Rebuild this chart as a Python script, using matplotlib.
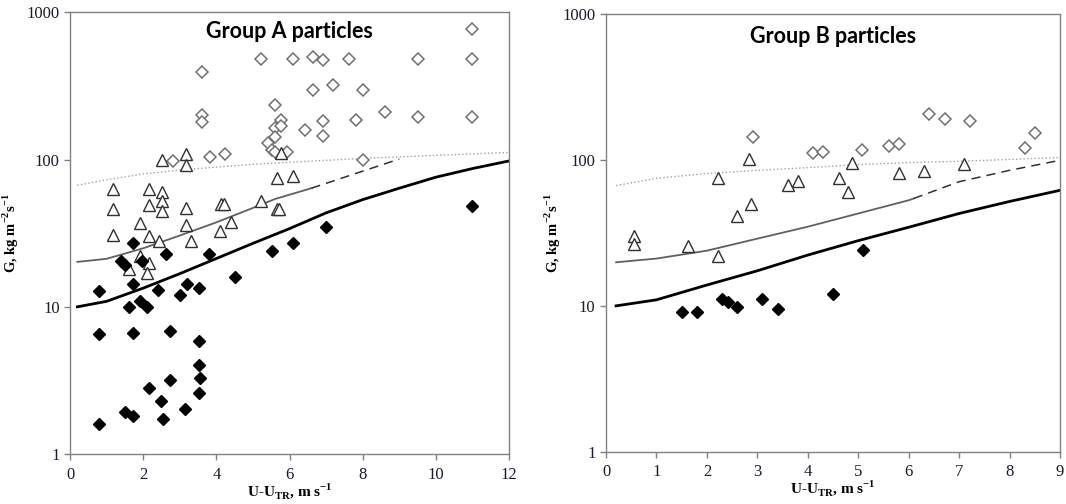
import numpy as np
import matplotlib.pyplot as plt

plt.rcParams["font.family"] = "Liberation Serif"
plt.rcParams["mathtext.fontset"] = "custom"
plt.rcParams["mathtext.rm"] = "Liberation Serif"
plt.rcParams["mathtext.bf"] = "Liberation Serif:bold"

# ---- Group A data ----
a_open_x = [11.0, 5.23, 6.10, 6.63, 6.91, 7.62, 9.51, 11.0, 3.61, 6.63, 7.20, 8.02,
            5.61, 8.61, 3.61, 3.61, 9.51, 11.0, 5.78, 6.91, 7.82, 5.61, 5.78, 6.41,
            5.61, 6.91, 5.41, 5.52, 5.61, 5.92, 2.82, 3.82, 4.23, 8.02]
a_open_g = [775, 485, 485, 495, 475, 485, 485, 485, 396, 298, 321, 298,
            234, 211, 200, 181, 196, 196, 187, 183, 187, 165, 170, 160,
            142, 144, 130, 117, 113, 112, 98, 104, 110, 100]

a_tri_x = [2.51, 3.16, 3.16, 5.76, 5.65, 6.10, 1.17, 2.16, 2.51, 2.51, 2.16, 1.17,
           2.51, 3.16, 4.12, 4.21, 5.21, 5.65, 5.72, 1.90, 3.16, 4.41, 4.10, 1.17,
           2.16, 2.42, 3.30, 1.90, 2.16, 1.60, 2.10]
a_tri_g = [100, 110, 92, 111, 75.5, 78, 63, 63, 60, 52, 49, 46,
           45, 47, 50, 50, 52.5, 46, 46.5, 37, 36, 37.7, 33, 31,
           30.5, 27.9, 27.9, 22, 20, 18, 17]

a_fill_x = [11.0, 7.0, 1.71, 6.10, 5.52, 3.81, 2.61, 1.38, 1.51, 1.97, 4.50, 1.71,
            3.21, 3.52, 0.80, 2.41, 3.01, 1.90, 1.60, 2.10, 0.80, 1.71, 2.72, 3.52,
            3.52, 3.55, 2.72, 2.15, 3.52, 2.50, 3.15, 1.51, 1.71, 2.53, 0.80]
a_fill_g = [48.8, 35, 27, 27, 24, 23, 22.8, 20.6, 19.2, 20.4, 16, 14.2,
            14.2, 13.4, 12.9, 13.0, 12.0, 11.0, 10.0, 10.0, 6.5, 6.6, 6.8, 5.9,
            4.0, 3.3, 3.2, 2.8, 2.6, 2.3, 2.03, 1.92, 1.81, 1.72, 1.61]

# model curves, group A
a_dot_x = [0.2, 1, 2, 3, 4, 5, 6, 8, 10, 12]
a_dot_g = [67, 73, 80, 85, 89, 93, 96, 102, 107, 112]
a_mid_x = [0.2, 1, 2, 3, 4, 5, 5.6, 6.6]
a_mid_g = [20.2, 21.2, 25, 30.5, 37.5, 47, 54, 64]
a_dash_x = [6.6, 9.0]
a_dash_g = [64, 101]
a_blk_x = [0.2, 1, 2, 3, 4, 5, 6, 7, 8, 9, 10, 11, 12]
a_blk_g = [10, 10.9, 13.4, 16.8, 21.3, 27, 34, 43.5, 53.5, 64, 76, 87, 98]

# ---- Group B data ----
b_open_x = [2.92, 4.11, 4.31, 5.08, 5.60, 5.81, 6.41, 6.71, 7.22, 8.31, 8.51]
b_open_g = [143, 111, 114, 118, 124, 129, 207, 191, 184, 120, 153]

b_tri_x = [0.56, 0.56, 1.63, 2.21, 2.21, 2.59, 2.84, 2.88, 3.60, 3.80, 4.61, 4.79,
           4.88, 5.80, 6.31, 7.10]
b_tri_g = [29.9, 26.4, 25.9, 75.7, 21.9, 41.6, 101, 49.8, 67.8, 71.4, 75.7, 60.7,
           95, 82, 83.7, 94]

b_fill_x = [1.51, 1.80, 2.30, 2.41, 2.60, 3.10, 3.40, 4.49, 5.09]
b_fill_g = [9.04, 9.04, 11.1, 10.6, 9.87, 11.1, 9.5, 12.1, 24]

# model curves, group B
b_dot_x = [0.2, 1, 2, 3, 4, 5, 6, 7, 8, 9]
b_dot_g = [66.8, 75, 80.8, 85, 88.7, 93, 96, 98, 101, 104]
b_mid_x = [0.2, 1, 2, 3, 4, 5, 6, 6.1]
b_mid_g = [19.9, 21.1, 23.9, 28.9, 34.9, 43, 53, 54.5]
b_dash_x = [6.1, 7, 8, 9]
b_dash_g = [54.5, 71, 85, 99.6]
b_blk_x = [0.2, 1, 2, 3, 4, 5, 6, 7, 8, 9]
b_blk_g = [10, 11.0, 13.9, 17.4, 22.3, 28, 34.6, 43, 52, 62]

fig = plt.figure(figsize=(10.66, 5.04), dpi=100)
axA = fig.add_axes([0.0657, 0.0992, 0.4118, 0.876])
axB = fig.add_axes([0.5685, 0.1038, 0.4259, 0.868])

panels = [
    (axA, "Group A particles", 12, 2, 0.956,
     (a_open_x, a_open_g), (a_tri_x, a_tri_g), (a_fill_x, a_fill_g),
     (a_dot_x, a_dot_g), (a_mid_x, a_mid_g), (a_dash_x, a_dash_g), (a_blk_x, a_blk_g), -0.112),
    (axB, "Group B particles", 9, 1, 0.948,
     (b_open_x, b_open_g), (b_tri_x, b_tri_g), (b_fill_x, b_fill_g),
     (b_dot_x, b_dot_g), (b_mid_x, b_mid_g), (b_dash_x, b_dash_g), (b_blk_x, b_blk_g), -0.094),
]

for ax, title, xmax, xstep, ty, op, tr, fi, dot, mid, dash, blk, ylab_x in panels:
    # model lines
    ax.plot(*dot, color="#a0a0a0", linestyle=":", linewidth=1.0)
    ax.plot(*mid, color="#606060", linestyle="-", linewidth=1.3)
    ax.plot(*dash, color="#303030", linestyle=(0, (6, 4)), linewidth=1.1)
    ax.plot(*blk, color="black", linestyle="-", linewidth=2.0)

    # experimental points
    ax.plot(*op, linestyle="none", marker="D", markersize=6.5, markerfacecolor="white",
            markeredgecolor="#707070", markeredgewidth=1.1)
    ax.plot(*tr, linestyle="none", marker="^", markersize=8.5, markerfacecolor="white",
            markeredgecolor="#303030", markeredgewidth=1.0)
    ax.plot(*fi, linestyle="none", marker="D", markersize=6.5, color="black")

    ax.set_yscale("log")
    ax.set_ylim(1, 1000)
    ax.set_xlim(0, xmax)
    xt = np.arange(0, xmax + 0.1, xstep)
    ax.set_xticks(xt)
    ax.set_xticklabels([f"{v:g}" for v in xt], fontsize=12, family="Liberation Serif")
    ax.set_yticks([1, 10, 100, 1000])
    ax.set_yticklabels(["1", "10", "100", "1000"], fontsize=12, family="Liberation Serif")
    ax.minorticks_off()
    ax.tick_params(direction="out", length=4, width=1, color="#808080",
                   labelcolor="#1a1a2e", top=False, right=False)
    ax.tick_params(axis="x", pad=5)
    for s in ax.spines.values():
        s.set_color("#808080")
        s.set_linewidth(1.0)

    ax.text(0.5, ty, title, transform=ax.transAxes, ha="center", va="center",
            fontsize=15.5, fontweight="bold", family="Lato")
    ax.set_xlabel(r"U-U$_{\mathbf{TR}}$, m s$^{\mathbf{-1}}$", fontsize=11,
                  fontweight="bold", labelpad=-1)
    ax.set_ylabel(r"G, kg m$^{\mathbf{-2}}$s$^{\mathbf{-1}}$", fontsize=10.5,
                  fontweight="bold")
    ax.yaxis.set_label_coords(ylab_x, 0.5)

fig.savefig("out.png", dpi=100)
